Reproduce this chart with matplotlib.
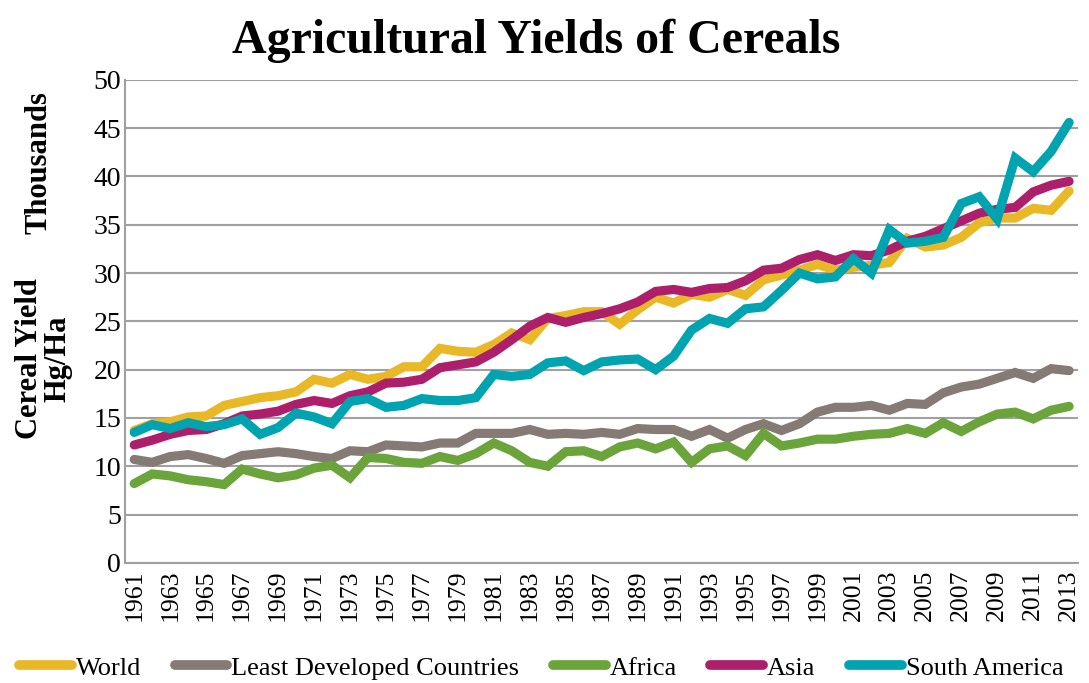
import matplotlib
matplotlib.use("Agg")
import matplotlib.pyplot as plt
import numpy as np

years = list(range(1961, 2014))

world = [13.7, 14.4, 14.6, 15.1, 15.2, 16.3, 16.7, 17.1, 17.3, 17.7,
         19.0, 18.6, 19.5, 19.0, 19.3, 20.3, 20.3, 22.2, 21.9, 21.8,
         22.6, 23.8, 23.1, 25.3, 25.6, 26.0, 26.0, 24.7, 26.2, 27.5,
         26.9, 27.8, 27.5, 28.3, 27.7, 29.3, 29.8, 30.3, 30.9, 30.3,
         30.6, 30.8, 31.1, 33.6, 32.7, 32.9, 33.7, 35.2, 35.7, 35.7,
         36.7, 36.5, 38.5]

ldc = [10.7, 10.4, 11.0, 11.2, 10.8, 10.3, 11.1, 11.3, 11.5, 11.3,
       11.0, 10.8, 11.6, 11.5, 12.2, 12.1, 12.0, 12.4, 12.4, 13.4,
       13.4, 13.4, 13.8, 13.3, 13.4, 13.3, 13.5, 13.3, 13.9, 13.8,
       13.8, 13.1, 13.8, 12.9, 13.8, 14.4, 13.7, 14.4, 15.6, 16.1,
       16.1, 16.3, 15.8, 16.5, 16.4, 17.6, 18.2, 18.5, 19.1, 19.7,
       19.1, 20.1, 19.9]

africa = [8.2, 9.2, 9.0, 8.6, 8.4, 8.1, 9.7, 9.2, 8.8, 9.1,
          9.8, 10.1, 8.8, 10.9, 10.8, 10.4, 10.3, 11.0, 10.6, 11.3,
          12.4, 11.6, 10.4, 10.0, 11.5, 11.6, 11.0, 12.0, 12.4, 11.8,
          12.5, 10.4, 11.8, 12.1, 11.1, 13.4, 12.1, 12.4, 12.8, 12.8,
          13.1, 13.3, 13.4, 13.9, 13.4, 14.5, 13.6, 14.6, 15.4, 15.6,
          14.9, 15.8, 16.2]

asia = [12.2, 12.7, 13.3, 13.7, 13.8, 14.4, 15.2, 15.4, 15.7, 16.4,
        16.8, 16.5, 17.3, 17.7, 18.6, 18.7, 19.0, 20.2, 20.5, 20.8,
        21.8, 23.1, 24.5, 25.4, 24.9, 25.4, 25.8, 26.3, 27.0, 28.1,
        28.3, 28.0, 28.4, 28.5, 29.2, 30.3, 30.5, 31.4, 31.9, 31.3,
        31.9, 31.8, 32.4, 33.3, 33.8, 34.6, 35.4, 36.2, 36.6, 36.8,
        38.4, 39.1, 39.5]

south_america = [13.5, 14.3, 13.9, 14.5, 14.1, 14.3, 14.9, 13.3, 14.0, 15.5,
                 15.1, 14.4, 16.7, 17.0, 16.1, 16.3, 17.0, 16.8, 16.8, 17.1,
                 19.5, 19.3, 19.5, 20.7, 20.9, 19.9, 20.8, 21.0, 21.1, 20.0,
                 21.4, 24.1, 25.3, 24.8, 26.3, 26.5, 28.2, 30.0, 29.4, 29.6,
                 31.5, 30.0, 34.5, 33.1, 33.3, 33.7, 37.2, 37.9, 35.6, 41.9,
                 40.5, 42.6, 45.6]

series_names = ["World", "Least Developed Countries", "Africa", "Asia", "South America"]
series_values = [world, ldc, africa, asia, south_america]
colors = ["#E9B827", "#857A74", "#6AA43A", "#AE1F6B", "#00A3B0"]

plt.rcParams['font.family'] = ['Liberation Serif', 'DejaVu Serif']

fig = plt.figure(figsize=(10.89, 6.83), dpi=100)
ax = fig.add_axes([0.115, 0.176, 0.875, 0.707])

x = np.arange(len(years))
for name, vals, c in zip(series_names, series_values, colors):
    ax.plot(x, vals, color=c, lw=6.6, label=name, solid_capstyle='round',
            solid_joinstyle='miter')

ax.set_xlim(-0.5, len(years) - 0.5)
ax.set_ylim(0, 50)
ax.set_yticks(np.arange(0, 51, 5))
ax.yaxis.grid(True, color='#A0A0A0', lw=1.5)
ax.set_axisbelow(True)
ax.set_xticks(x[::2])
ax.set_xticklabels([str(y) for y in years[::2]], rotation=90)
ax.tick_params(axis='both', length=0)
ax.tick_params(axis='x', pad=5, labelsize=18.5)
ax.tick_params(axis='y', pad=3, labelsize=20)

for side in ['top', 'right']:
    ax.spines[side].set_visible(False)
for side in ['left', 'bottom']:
    ax.spines[side].set_color('#A0A0A0')
    ax.spines[side].set_linewidth(1.5)

fig.text(0.492, 0.94, "Agricultural Yields of Cereals", ha='center', va='center',
         fontsize=34.5, fontweight='bold')
fig.text(0.036, 0.762, "Thousands", rotation=90, ha='center', va='center',
         fontsize=22, fontweight='bold')
fig.text(0.040, 0.475, "Cereal Yield\nHg/Ha", rotation=90, ha='center', va='center',
         fontsize=22, fontweight='bold', linespacing=1.0)

leg = fig.legend(loc='center', bbox_to_anchor=(0.497, 0.022), ncol=5, frameon=False,
                 fontsize=19, handlelength=2.0, handletextpad=0.15, columnspacing=1.27,
                 borderaxespad=0, borderpad=0)
for h in leg.get_lines():
    h.set_linewidth(7)
    h.set_solid_capstyle('round')

fig.savefig("out.png", dpi=100)
